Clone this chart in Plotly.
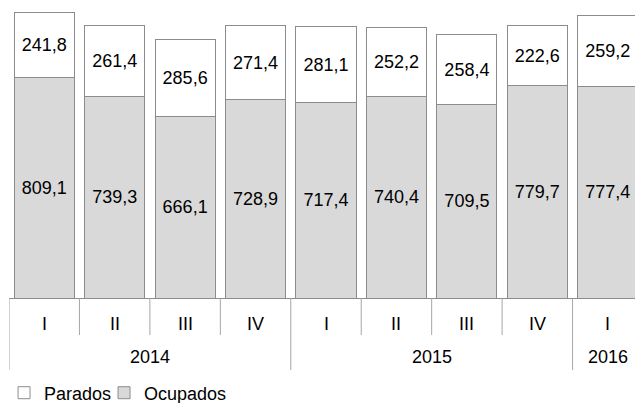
import plotly.graph_objects as go

years = ["2014", "2014", "2014", "2014", "2015", "2015", "2015", "2015", "2016"]
quarters = ["I", "II", "III", "IV", "I", "II", "III", "IV", "I"]
ocupados = [809.1, 739.3, 666.1, 728.9, 717.4, 740.4, 709.5, 779.7, 777.4]
parados = [241.8, 261.4, 285.6, 271.4, 281.1, 252.2, 258.4, 222.6, 259.2]

idx = list(range(len(quarters)))
FONT = "Liberation Sans, Arial, sans-serif"
font = dict(family=FONT, size=18, color="#000000")
edge = "#8c8c8c"
sep = "#a6a6a6"

fig = go.Figure()
fig.add_trace(go.Bar(
    x=idx, y=ocupados, name="Ocupados", legend="legend2",
    marker=dict(color="#d9d9d9", line=dict(color=edge, width=1)),
    texttemplate="%{y:.1f}", textposition="inside", insidetextanchor="middle",
    textangle=0, constraintext="none", textfont=font,
))
fig.add_trace(go.Bar(
    x=idx, y=parados, name="Parados", legend="legend",
    marker=dict(color="#ffffff", line=dict(color=edge, width=1)),
    texttemplate="%{y:.1f}", textposition="inside", insidetextanchor="middle",
    textangle=0, constraintext="none", textfont=font,
))

shapes = []
annotations = []
for i, q in enumerate(quarters):
    annotations.append(dict(x=i, y=-0.0897, xref="x", yref="paper", text=q,
                            showarrow=False, font=font, yanchor="middle"))
groups = []
start = 0
for i in range(1, len(years) + 1):
    if i == len(years) or years[i] != years[start]:
        groups.append((years[start], start, i - 1))
        start = i
year_bounds = set()
for name, a, b in groups:
    year_bounds.add(a - 0.5)
    year_bounds.add(b + 0.5)
    annotations.append(dict(x=(a + b) / 2, y=-0.2034, xref="x", yref="paper", text=name,
                            showarrow=False, font=font, yanchor="middle"))
for i in range(len(quarters) + 1):
    xb = i - 0.5
    y1 = -0.2483 if xb in year_bounds else -0.1276
    shapes.append(dict(type="line", xref="x", yref="paper", x0=xb, x1=xb, y0=0, y1=y1,
                       line=dict(color=sep, width=1)))

legend_common = dict(orientation="h", xanchor="left", y=-0.3276, yanchor="middle",
                     font=font, bgcolor="rgba(0,0,0,0)")

fig.update_layout(
    barmode="stack",
    bargap=0.148,
    width=635, height=395,
    margin=dict(l=1, r=0, t=0, b=105, autoexpand=False),
    paper_bgcolor="white", plot_bgcolor="white",
    separators=", ",
    font=font,
    showlegend=True,
    legend=dict(x=-0.0078, **legend_common),
    legend2=dict(x=0.1499, **legend_common),
    xaxis=dict(range=[-0.5, len(quarters) - 0.5], showline=True, linecolor=edge, linewidth=1,
               showticklabels=False, ticks="", showgrid=False, zeroline=False, fixedrange=True),
    yaxis=dict(range=[0, 1065.6], visible=False, showgrid=False, zeroline=False),
    shapes=shapes,
    annotations=annotations,
)

fig.write_html("out.html")
